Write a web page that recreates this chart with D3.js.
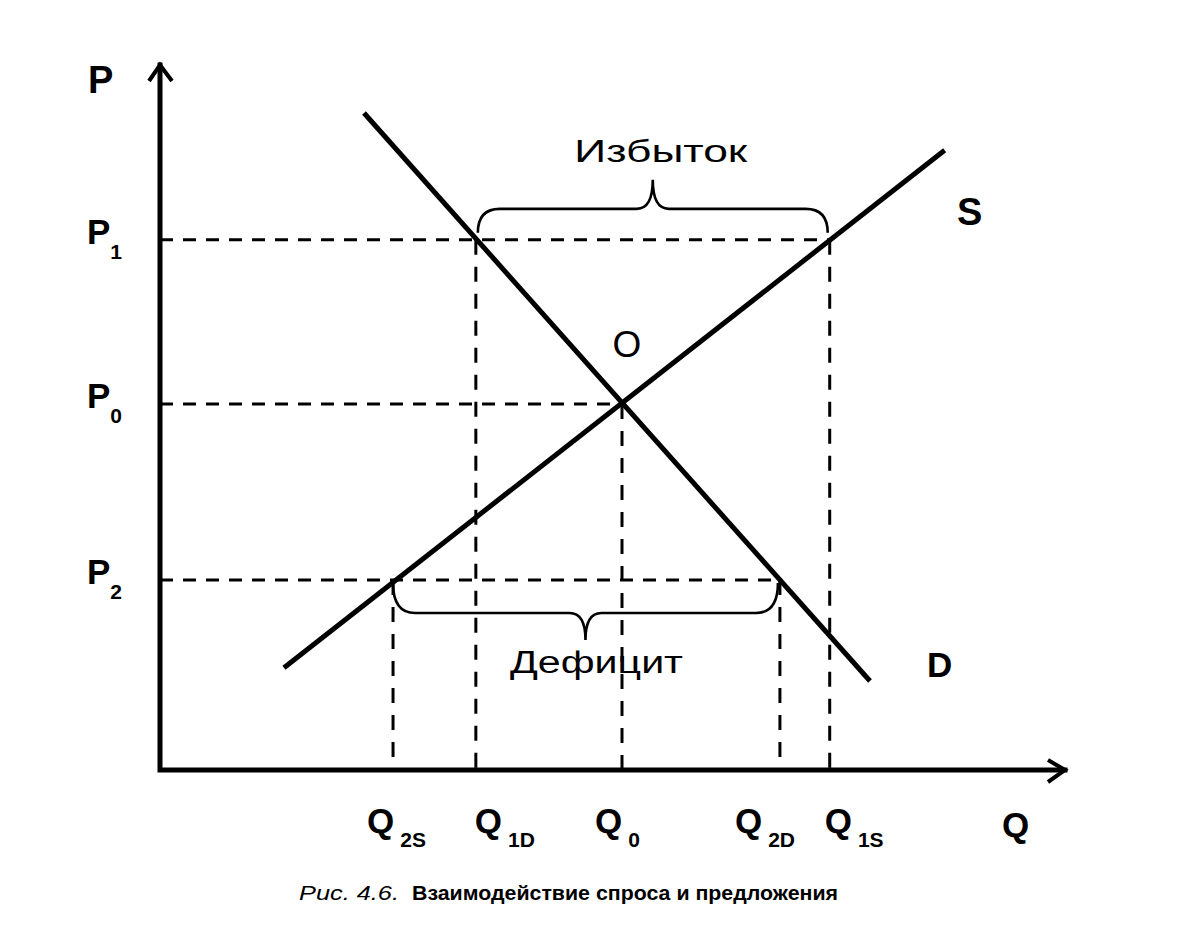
<!DOCTYPE html>
<html>
<head>
<meta charset="utf-8">
<script src="https://cdn.jsdelivr.net/npm/d3@7"></script>
<style>
  html, body { margin: 0; padding: 0; background: #fff; }
  svg { display: block; }
  text { font-family: "Liberation Sans", Arial, sans-serif; fill: #000; }
</style>
</head>
<body>
<svg id="chart" width="1185" height="940"></svg>
<script>
// ---------- DATA ----------
const quantityLabels = ["Q2S", "Q1D", "Q0", "Q2D", "Q1S"];
const quantityValues = [25.75, 34.9, 51.05, 68.5, 74.0];
const quantityPriceLevel = ["P2", "P1", "P0", "P2", "P1"];

const priceLabels = ["P1", "P0", "P2"];
const priceValues = [75.2, 51.9, 26.95];
const priceQuantityEnd = ["Q1S", "Q0", "Q2D"];

const demandQ = [22.54, 78.45];
const demandP = [93.19, 12.62];
const supplyQ = [13.7, 86.7];
const supplyP = [14.5, 87.9];

const braceNames = ["Избыток", "Дефицит"];
const braceFrom = ["Q1D", "Q2S"];
const braceTo = ["Q1S", "Q2D"];
const braceLevel = ["P1", "P2"];

const axisLabels = ["P", "Q"];
const curveLabels = ["S", "D"];
const equilibriumLabel = "O";
const captionItalic = "Рис. 4.6.";
const captionBold = "Взаимодействие спроса и предложения";

// ---------- LAYOUT ----------
const svg = d3.select("#chart");
const x = d3.scaleLinear().domain([0, 100]).range([160, 1065]);
const y = d3.scaleLinear().domain([0, 100]).range([770, 65]);

const qVal = Object.fromEntries(quantityLabels.map((l, i) => [l, quantityValues[i]]));
const pVal = Object.fromEntries(priceLabels.map((l, i) => [l, priceValues[i]]));

const qLabelDx = { Q2S: -26, Q1D: -1, Q0: -27, Q2D: -45, Q1S: -5 };

// ---------- DASHED GUIDES ----------
const g = svg.append("g");
priceLabels.forEach((p, i) => {
  g.append("line")
    .attr("x1", x(0)).attr("x2", x(qVal[priceQuantityEnd[i]]))
    .attr("y1", y(pVal[p])).attr("y2", y(pVal[p]))
    .attr("stroke", "#000").attr("stroke-width", 3)
    .attr("stroke-dasharray", "13,10");
});
quantityLabels.forEach((q, i) => {
  g.append("line")
    .attr("x1", x(qVal[q])).attr("x2", x(qVal[q]))
    .attr("y1", y(pVal[quantityPriceLevel[i]])).attr("y2", y(0))
    .attr("stroke", "#000").attr("stroke-width", 3)
    .attr("stroke-dasharray", "15,12");
});

// ---------- SUPPLY / DEMAND ----------
const line = d3.line().x(d => x(d[0])).y(d => y(d[1]));
[[demandQ, demandP], [supplyQ, supplyP]].forEach(([qs, ps]) => {
  svg.append("path")
    .datum(qs.map((q, i) => [q, ps[i]]))
    .attr("d", line)
    .attr("fill", "none").attr("stroke", "#000").attr("stroke-width", 5);
});

// ---------- AXES ----------
const axisG = svg.append("g").attr("stroke", "#000").attr("fill", "none")
  .attr("stroke-width", 5).attr("stroke-linejoin", "miter");
axisG.append("path").attr("d", `M${x(0)},${y(100)} L${x(0)},${y(0)} L${x(100)},${y(0)}`)
  .attr("stroke-linecap", "square");
axisG.append("path").attr("stroke-width", 4)
  .attr("d", `M${x(0) - 11},${y(100) + 16} L${x(0)},${y(100)} L${x(0) + 12},${y(100) + 16}`);
axisG.append("path").attr("stroke-width", 4)
  .attr("d", `M${x(100) - 17},${y(0) - 10} L${x(100)},${y(0)} L${x(100) - 17},${y(0) + 12}`);

// ---------- BRACES ----------
function bracePath(x1, x2, yb, dir) {
  const y0 = yb + dir * (dir < 0 ? 7 : 3);
  const yh = yb + dir * (dir < 0 ? 31 : 33);
  const yt = yb + dir * 60;
  const xm = (x1 + x2) / 2;
  return `M${x1},${y0} Q${x1},${yh} ${x1 + 22},${yh} L${xm - 16},${yh} Q${xm},${yh} ${xm},${yt}` +
         ` Q${xm},${yh} ${xm + 16},${yh} L${x2 - 22},${yh} Q${x2},${yh} ${x2},${y0}`;
}
braceNames.forEach((name, i) => {
  const x1 = x(qVal[braceFrom[i]]) + (i === 0 ? 2 : 0);
  const x2 = x(qVal[braceTo[i]]) - 2;
  const yb = y(pVal[braceLevel[i]]);
  const dir = i === 0 ? -1 : 1;
  svg.append("path").attr("d", bracePath(x1, x2, yb, dir))
    .attr("fill", "none").attr("stroke", "#000").attr("stroke-width", 2.6);
  const xm = (x1 + x2) / 2;
  svg.append("text")
    .attr("x", xm + (i === 0 ? 8 : 11))
    .attr("y", dir < 0 ? yb - 78 : yb + 93)
    .attr("text-anchor", "middle")
    .attr("font-size", 31)
    .attr("textLength", 173).attr("lengthAdjust", "spacingAndGlyphs")
    .text(name);
});

// ---------- LABELS ----------
function subLabel(xp, yp, main, sub, size, subSize, subDx, subDy) {
  const t = svg.append("text").attr("x", xp).attr("y", yp)
    .attr("font-size", size).attr("font-weight", "bold");
  t.append("tspan").text(main);
  if (sub) t.append("tspan").attr("dx", subDx).attr("dy", subDy)
    .attr("font-size", subSize).text(sub);
}
priceLabels.forEach(p => {
  subLabel(87, y(pVal[p]) + 4, p[0], p.slice(1), 35, 21, 0, 15);
});
quantityLabels.forEach(q => {
  subLabel(x(qVal[q]) + qLabelDx[q], 833, q[0], q.slice(1), 35, 21, 6, 14);
});
subLabel(88, 93, axisLabels[0], "", 38);
subLabel(1002, 837, axisLabels[1], "", 35);
subLabel(957, 225, curveLabels[0], "", 38);
subLabel(927, 677, curveLabels[1], "", 35);

svg.append("text").attr("x", 627).attr("y", 357).attr("text-anchor", "middle")
  .attr("font-size", 37).text(equilibriumLabel);

// ---------- CAPTION ----------
svg.append("text").attr("x", 299).attr("y", 900)
  .attr("font-size", 20).attr("font-style", "italic")
  .attr("textLength", 100).attr("lengthAdjust", "spacingAndGlyphs")
  .text(captionItalic);
svg.append("text").attr("x", 412).attr("y", 900)
  .attr("font-size", 21).attr("font-weight", "bold")
  .attr("textLength", 426).attr("lengthAdjust", "spacingAndGlyphs")
  .text(captionBold);
</script>
</body>
</html>
